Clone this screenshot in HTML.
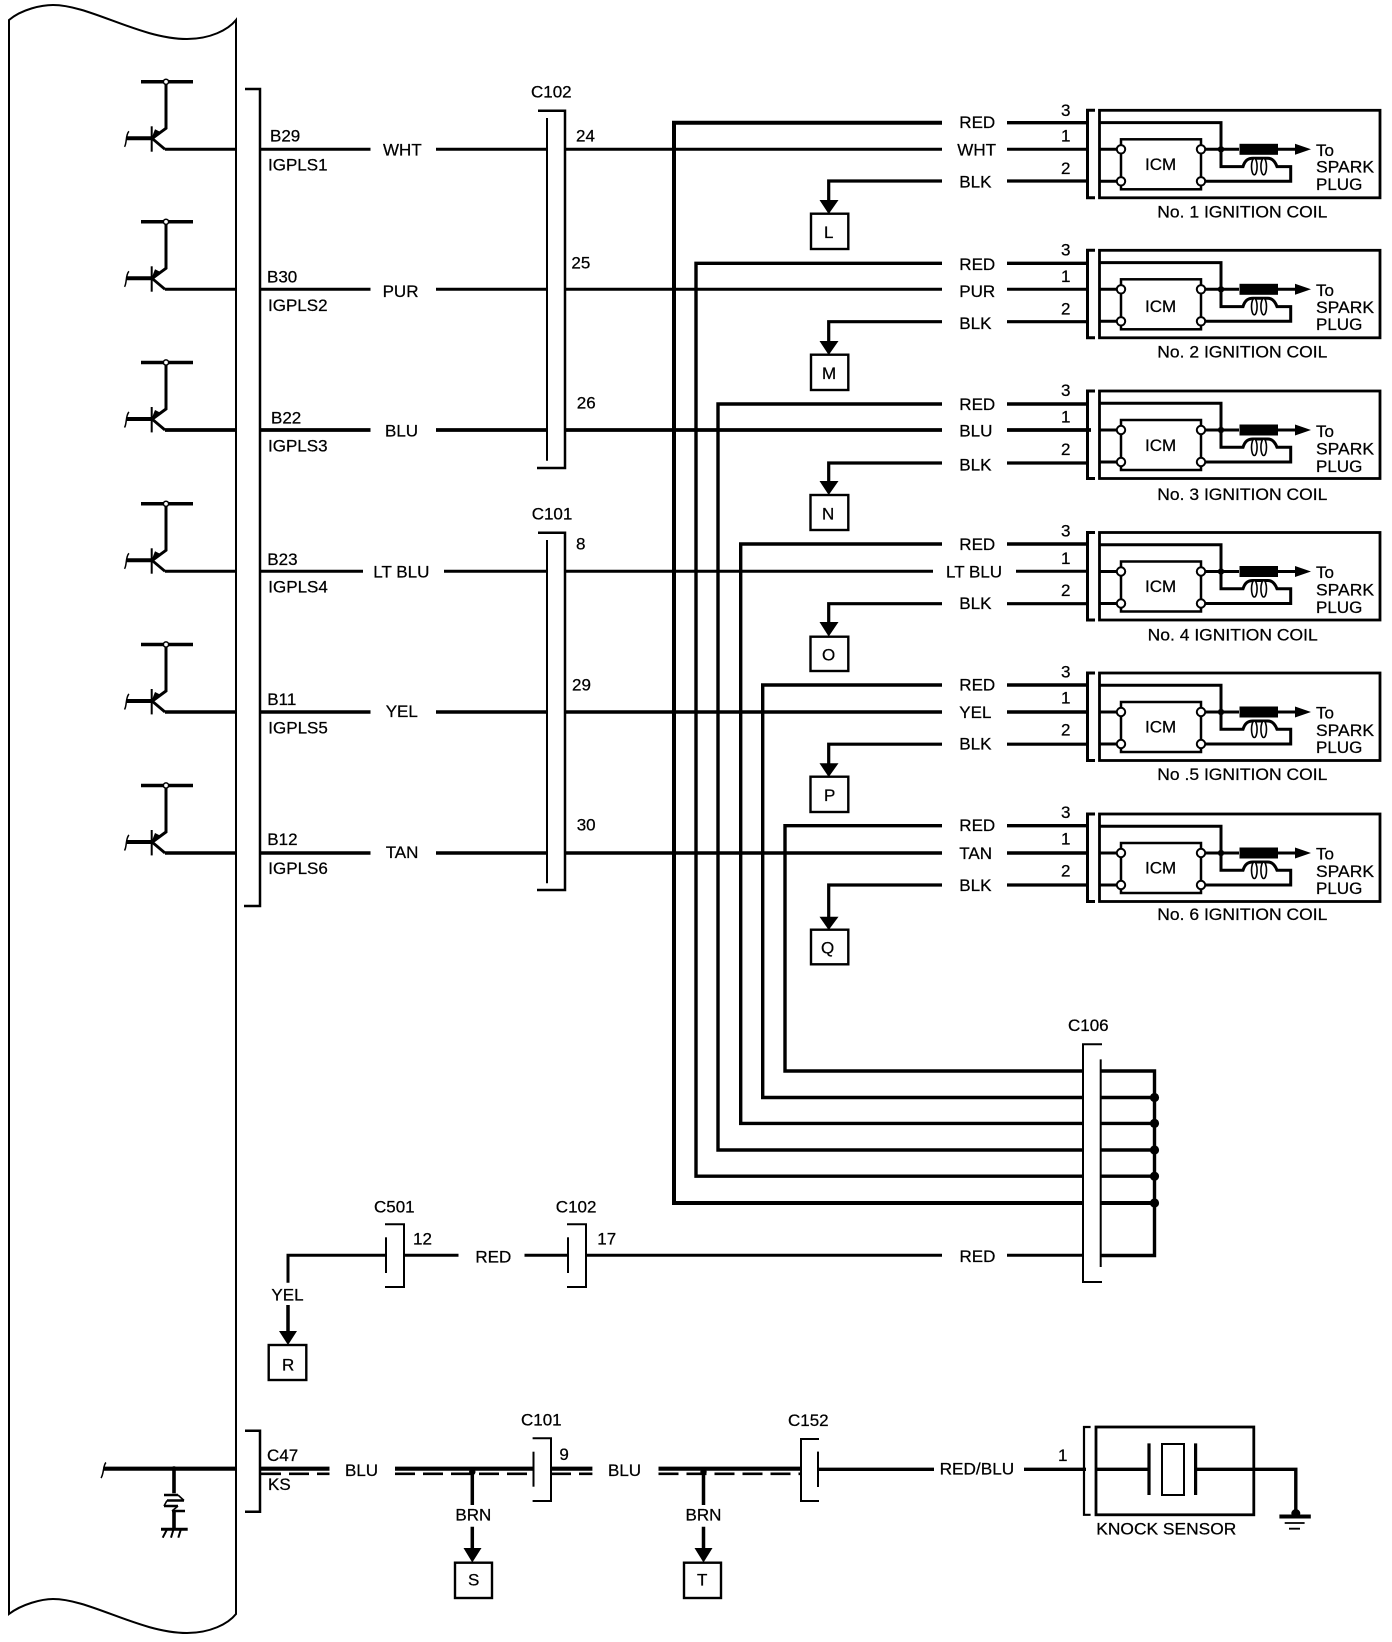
<!DOCTYPE html>
<html><head><meta charset="utf-8"><title>Ignition wiring diagram</title>
<style>
html,body{margin:0;padding:0;background:#fff}
svg{display:block}
text{font-family:"Liberation Sans",sans-serif;font-size:17px;fill:#000;stroke:#000;stroke-width:.25}
</style></head><body>
<svg xmlns="http://www.w3.org/2000/svg" width="1392" height="1642" viewBox="0 0 1392 1642">
<defs>
<g id="tr" fill="none" stroke="#000">
<path d="M141 -67.5H193" stroke-width="3.5"/>
<path d="M166 -67.5V-21L153 -11.5" stroke-width="3"/>
<path d="M151.7 -23V2.4" stroke-width="2"/>
<path d="M127 -11H152" stroke-width="4"/>
<path d="M124.5 -2.5C127 -6 125.5 -15 129 -18" stroke-width="1.5"/>
<path d="M152 -11L165 0" stroke-width="2.8"/>
<polygon points="151.7,-11.6 155,-20 161,-17" fill="#000" stroke="none"/>
<circle cx="166" cy="-67.5" r="2.6" fill="#fff" stroke-width="1.5"/>
</g>
<g id="coil" fill="none" stroke="#000">
<path d="M1095 -39H1087.5V48.5H1095" stroke-width="3"/>
<rect x="1099.5" y="-39" width="280.5" height="87.5" stroke-width="2.8"/>
<rect x="1121" y="-10" width="80" height="50" stroke-width="2.5"/>
<path d="M1099 -26.7H1221V17.3H1243C1245 11 1248 9 1253 9H1268C1272 9 1275 12 1277 17.3H1290.7V32H1205" stroke-width="3"/>
<path d="M1099 0H1117M1205 0H1239M1278 0H1298M1099 32H1117" stroke-width="3"/>
<rect x="1239.5" y="-5.5" width="38.5" height="11" fill="#000" stroke="none"/>
<polygon points="1295,-5.5 1311,0 1295,5.5" fill="#000" stroke="none"/>
<circle cx="1221" cy="0" r="3.2" fill="#000" stroke="none"/>
<ellipse cx="1254.3" cy="17.3" rx="2.8" ry="8.2" stroke-width="1.6" fill="#fff"/>
<ellipse cx="1263.7" cy="17.3" rx="2.8" ry="8.2" stroke-width="1.6" fill="#fff"/>
<g fill="#fff" stroke-width="2"><circle cx="1121" cy="0" r="4.2"/><circle cx="1201" cy="0" r="4.2"/><circle cx="1121" cy="32" r="4.2"/><circle cx="1201" cy="32" r="4.2"/></g>
</g>
</defs>

<!-- module -->
<g fill="none" stroke="#000" stroke-width="2">
<path d="M9 20C22 9 42 5 53 5C90 5 140 39 187 39C210 39 228 30 236 20V1614C228 1624 210 1633 187 1633C140 1633 90 1599 53 1599C42 1599 22 1604 9 1614Z"/>
<path d="M245 89H260V906H244" stroke-width="2.5"/>
<path d="M245 1430.7H260V1511.7H245" stroke-width="2.5"/>
<!-- C102 -->
<path d="M538 110.7H565V468H537" stroke-width="2.5"/><path d="M547 118V460.7"/>
<!-- C101 -->
<path d="M538 532.7H565V890H537" stroke-width="2.5"/><path d="M547 540V883.3"/>
<!-- C106 -->
<path d="M1102 1044.3H1083V1282H1102" stroke-width="2"/><path d="M1100.7 1059.4V1267" stroke-width="2"/>
<!-- C501, C102 low -->
<path d="M385 1224.3H404V1287H385" /><path d="M386 1237.3V1273"/>
<path d="M567 1224.3H586V1287H567"/><path d="M568 1237.3V1273"/>
<!-- C101 low -->
<path d="M532.6 1438.3H551V1501H532.6"/><path d="M533.5 1451.7V1486.7"/>
<!-- C152 -->
<path d="M819 1439H801V1501H819"/><path d="M818 1451.6V1487"/>
</g>

<use href="#tr" y="149.3"/><use href="#tr" y="289.3"/><use href="#tr" y="430"/><use href="#tr" y="571.3"/><use href="#tr" y="712"/><use href="#tr" y="853"/>
<use href="#coil" y="149.3"/><use href="#coil" y="289.3"/><use href="#coil" y="430"/><use href="#coil" y="571.5"/><use href="#coil" y="712"/><use href="#coil" y="853"/>

<!-- row wires -->
<g fill="none" stroke="#000" stroke-width="3">
<path d="M165 149.3H236M260 149.3H370.5M436 149.3H547M565 149.3H942M1007 149.3H1087"/>
<path d="M165 289.3H236M260 289.3H370.5M436 289.3H547M565 289.3H942M1007 289.3H1087"/>
<path d="M165 430H236M260 430H370.5M436 430H547M565 430H942M1007 430H1091" stroke-width="3.8"/>
<path d="M165 571.3H236M260 571.3H363M444 571.3H547M565 571.3H933M1016 571.3H1087"/>
<path d="M165 712H236M260 712H370.5M436 712H547M565 712H942M1007 712H1087" stroke-width="3.6"/>
<path d="M165 853H236M260 853H370.5M436 853H547M565 853H942M1007 853H1087" stroke-width="3.4"/>
<!-- RED feeds -->
<g stroke-width="3.4">
<path d="M942 122.7H674V1203H1083M1100.7 1203H1154" stroke-width="4"/>
<path d="M942 263.3H696V1176.2H1083M1100.7 1176.2H1154"/>
<path d="M942 404H718V1150H1083M1100.7 1150H1154"/>
<path d="M942 544H740.7V1123.4H1083M1100.7 1123.4H1154"/>
<path d="M942 685H762.7V1097.5H1083M1100.7 1097.5H1154"/>
<path d="M942 825.7H785V1071H1083M1100.7 1071H1154.5V1255.5H1100.7"/>
</g>
<path d="M1007 122.7H1087M1007 263.3H1087M1007 404H1087M1007 544H1087M1007 685H1087M1007 825.7H1087" stroke-width="3.4"/>
<!-- BLK -->
<path d="M1007 181H1087M1007 321.7H1087M1007 463H1087M1007 603.7H1087M1007 744.2H1087M1007 885H1087" stroke-width="3.2"/>
<g stroke-width="3.2">
<path d="M942 181H828.7V201"/><path d="M942 321.7H828.7V342"/><path d="M942 463H828.7V482"/><path d="M942 603.7H828.7V623"/><path d="M942 744.2H828.7V764"/><path d="M942 885H828.7V917"/>
</g>
<!-- RED low -->
<path d="M288 1282.7V1255.3H386M404 1255.3H458.5M524.5 1255.3H568M586 1255.3H942M1007 1255.3H1083"/>
<path d="M288 1305V1332" stroke-width="3.5"/>
<!-- knock -->
<path d="M103.3 1468.7H236M260 1468.7H329.5M395 1468.7H533.5M551 1468.7H592.4M658.5 1468.7H801" stroke-width="4.2"/>
<path d="M261 1473.8H329.5M395 1473.8H533.5M551 1473.8H592.4M658.5 1473.8H801" stroke-dasharray="20 8" stroke-width="2.6"/>
<path d="M101 1478C104 1474 103 1465 106 1462.5" stroke-width="1.5"/>
<path d="M818 1469.3H934M1024 1469.3H1086M1096 1469.3H1149M1195.6 1469.3H1295.8V1514" stroke-width="3.4"/>
<path d="M174 1468.7V1493.3M174 1512V1529" stroke-width="3.6"/>
<path d="M164 1495H178M167 1500.5H184M164 1506H178M172 1511H185" stroke-width="2.6"/>
<path d="M178 1495L184 1500.5M167 1500.5L164 1506M178 1506L172 1511" stroke-width="1.6"/>
<path d="M161 1529.3H187.7" stroke-width="3"/>
<path d="M166.7 1530L162.7 1537.7M173.3 1530L171 1537.7M180.7 1530L178.3 1537.7" stroke-width="2"/>
<path d="M472.3 1472V1505M472.3 1526.7V1549M703.5 1472V1505M703.5 1526.7V1549" stroke-width="3.5"/>
<!-- knock sensor -->
<path d="M1090.6 1427H1084V1514.8H1090.6" stroke-width="2.2"/>
<rect x="1096" y="1427" width="157.8" height="87.8" stroke-width="2.8"/>
<path d="M1149 1443.4V1495M1195.6 1443.4V1495" stroke-width="3.2"/>
<rect x="1162" y="1444" width="22" height="51" stroke-width="2"/>
<path d="M1279.4 1516.5H1310.8" stroke-width="4"/>
<path d="M1284.7 1523H1304.6M1289 1528.7H1300" stroke-width="1.8"/>
</g>
<g fill="#000">
<circle cx="1295.8" cy="1513.5" r="4.5"/>
<circle cx="1154.5" cy="1097.5" r="4.6"/><circle cx="1154.5" cy="1123.4" r="4.6"/><circle cx="1154.5" cy="1150" r="4.6"/><circle cx="1154.5" cy="1176.2" r="4.6"/><circle cx="1154.5" cy="1203" r="4.6"/>
<circle cx="174" cy="1468.7" r="2.5"/><circle cx="472.3" cy="1472" r="3.2"/><circle cx="703.5" cy="1472" r="3.2"/>
<polygon points="819.5,200 838.5,200 828.7,214"/><polygon points="819.5,341 838.5,341 828.7,355"/><polygon points="819.5,481 838.5,481 828.7,495"/><polygon points="819.5,622 838.5,622 828.7,636.5"/><polygon points="819.5,763.3 838.5,763.3 828.7,777"/><polygon points="819.5,916.7 838.5,916.7 828.7,930"/>
<polygon points="279,1331 297,1331 288,1345"/><polygon points="463.5,1548 481.5,1548 472.3,1562.5"/><polygon points="694.5,1548 712.5,1548 703.5,1562.5"/>
</g>
<g fill="none" stroke="#000" stroke-width="2.4">
<rect x="811" y="213.7" width="37.3" height="35.3"/><rect x="811" y="354.7" width="37.3" height="35.3"/><rect x="810.5" y="495" width="37.8" height="35"/><rect x="810.5" y="636.7" width="37.8" height="34.3"/><rect x="810.5" y="776.7" width="37.8" height="35.3"/><rect x="811" y="929.7" width="37.3" height="34.6"/>
<rect x="268.7" y="1345" width="37.6" height="35"/><rect x="455" y="1562.7" width="37" height="35.3"/><rect x="684" y="1562.7" width="37" height="35.3"/>
</g>

<!-- left labels -->
<text x="270" y="141.7">B29</text><text x="268" y="170.7">IGPLS1</text>
<text x="267" y="282.7">B30</text><text x="268" y="311">IGPLS2</text>
<text x="271" y="423.3">B22</text><text x="268" y="451.7">IGPLS3</text>
<text x="267.3" y="565">B23</text><text x="268.3" y="592.7">IGPLS4</text>
<text x="267.3" y="705">B11</text><text x="268.3" y="733.3">IGPLS5</text>
<text x="267.3" y="845">B12</text><text x="268.3" y="874">IGPLS6</text>
<text x="383" y="155.7">WHT</text><text x="382.6" y="297">PUR</text><text x="385" y="436.5">BLU</text><text x="373.3" y="577.7">LT BLU</text><text x="385.7" y="717">YEL</text><text x="385.7" y="858">TAN</text>
<text x="531" y="97.3">C102</text><text x="576" y="141.7">24</text><text x="571.4" y="268.3">25</text><text x="576.8" y="408.7">26</text>
<text x="531.7" y="519.5">C101</text><text x="576" y="549.3">8</text><text x="572" y="690.7">29</text><text x="576.7" y="830.7">30</text>

<!-- wire labels right -->
<text x="959.3" y="128">RED</text><text x="957.3" y="155.7">WHT</text><text x="959.3" y="187.7">BLK</text>
<text x="959.3" y="270">RED</text><text x="959.3" y="297">PUR</text><text x="959.3" y="329">BLK</text>
<text x="959.3" y="410">RED</text><text x="959.3" y="436.5">BLU</text><text x="959.3" y="470.5">BLK</text>
<text x="959.3" y="550">RED</text><text x="946" y="577.7">LT BLU</text><text x="959.3" y="609">BLK</text>
<text x="959.3" y="690.5">RED</text><text x="959.3" y="718">YEL</text><text x="959.3" y="749.5">BLK</text>
<text x="959.3" y="831">RED</text><text x="959.3" y="859">TAN</text><text x="959.3" y="891">BLK</text>

<!-- pins -->
<text x="1061" y="116">3</text><text x="1061" y="141.7">1</text><text x="1061" y="174">2</text>
<text x="1061" y="255.5">3</text><text x="1061" y="282">1</text><text x="1061" y="314.5">2</text>
<text x="1061" y="396">3</text><text x="1061" y="422.5">1</text><text x="1061" y="455">2</text>
<text x="1061" y="536.5">3</text><text x="1061" y="564">1</text><text x="1061" y="596">2</text>
<text x="1061" y="677.5">3</text><text x="1061" y="703.5">1</text><text x="1061" y="735.5">2</text>
<text x="1061" y="818">3</text><text x="1061" y="844.5">1</text><text x="1061" y="876.5">2</text>

<!-- ICM + spark text -->
<text x="1145" y="170">ICM</text><text x="1316" y="156">To</text><text x="1316" y="172.7" textLength="58" lengthAdjust="spacingAndGlyphs">SPARK</text><text x="1316" y="190">PLUG</text>
<text x="1145" y="312">ICM</text><text x="1316" y="296">To</text><text x="1316" y="313" textLength="58" lengthAdjust="spacingAndGlyphs">SPARK</text><text x="1316" y="330">PLUG</text>
<text x="1145" y="451">ICM</text><text x="1316" y="437">To</text><text x="1316" y="454.3" textLength="58" lengthAdjust="spacingAndGlyphs">SPARK</text><text x="1316" y="472">PLUG</text>
<text x="1145" y="592">ICM</text><text x="1316" y="578">To</text><text x="1316" y="595.5" textLength="58" lengthAdjust="spacingAndGlyphs">SPARK</text><text x="1316" y="613">PLUG</text>
<text x="1145" y="732.5">ICM</text><text x="1316" y="718.5">To</text><text x="1316" y="736" textLength="58" lengthAdjust="spacingAndGlyphs">SPARK</text><text x="1316" y="753">PLUG</text>
<text x="1145" y="873.5">ICM</text><text x="1316" y="859.5">To</text><text x="1316" y="877" textLength="58" lengthAdjust="spacingAndGlyphs">SPARK</text><text x="1316" y="894">PLUG</text>

<text x="1157.3" y="217.3" textLength="170" lengthAdjust="spacingAndGlyphs">No. 1 IGNITION COIL</text>
<text x="1157.3" y="357.7" textLength="170" lengthAdjust="spacingAndGlyphs">No. 2 IGNITION COIL</text>
<text x="1157.3" y="500" textLength="170" lengthAdjust="spacingAndGlyphs">No. 3 IGNITION COIL</text>
<text x="1147.7" y="640.4" textLength="170" lengthAdjust="spacingAndGlyphs">No. 4 IGNITION COIL</text>
<text x="1157.3" y="780" textLength="170" lengthAdjust="spacingAndGlyphs">No .5 IGNITION COIL</text>
<text x="1157.3" y="920" textLength="170" lengthAdjust="spacingAndGlyphs">No. 6 IGNITION COIL</text>

<!-- box letters -->
<text x="824" y="238">L</text><text x="822" y="379">M</text><text x="822" y="519.3">N</text><text x="822" y="660.7">O</text><text x="824" y="801">P</text><text x="821" y="953.7">Q</text>
<text x="282" y="1370.7">R</text><text x="468" y="1585.7">S</text><text x="697" y="1585.7">T</text>

<!-- lower labels -->
<text x="1068" y="1031">C106</text>
<text x="959.5" y="1262">RED</text>
<text x="374" y="1212.7">C501</text><text x="413" y="1244.5">12</text><text x="475.4" y="1262.7">RED</text>
<text x="555.8" y="1212.7">C102</text><text x="597.3" y="1244.5">17</text>
<text x="271.4" y="1300.7">YEL</text>
<text x="267" y="1461">C47</text><text x="268" y="1490">KS</text>
<text x="345" y="1476">BLU</text><text x="608" y="1476">BLU</text>
<text x="521" y="1425.7">C101</text><text x="559.4" y="1460">9</text>
<text x="455.4" y="1520.7">BRN</text><text x="685.5" y="1520.7">BRN</text>
<text x="788" y="1426">C152</text>
<text x="939.6" y="1474.4" textLength="74.6" lengthAdjust="spacingAndGlyphs">RED/BLU</text>
<text x="1058" y="1461">1</text>
<text x="1096.3" y="1534.7" textLength="140" lengthAdjust="spacingAndGlyphs">KNOCK SENSOR</text>
</svg>
</body></html>
